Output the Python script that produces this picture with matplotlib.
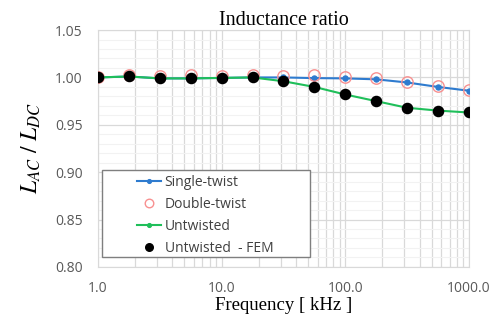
import numpy as np
import matplotlib.pyplot as plt
from matplotlib.patches import Rectangle
from matplotlib.ticker import FixedLocator, MultipleLocator, FuncFormatter

plt.rcParams['mathtext.fontset'] = 'stix'

freq = [1.0, 1.78, 3.16, 5.62, 10.0, 17.8, 31.6, 56.2, 100.0, 178.0, 316.0, 562.0, 1000.0]
single = [1.000, 1.001, 0.999, 0.999, 0.9995, 1.000, 1.000, 0.9993, 0.999, 0.998, 0.9947, 0.990, 0.986]
double = [1.000, 1.003, 1.001, 1.003, 1.001, 1.003, 1.001, 1.003, 1.000, 0.999, 0.995, 0.991, 0.987]
untwisted = [1.000, 1.001, 0.999, 0.999, 0.9995, 1.000, 0.996, 0.990, 0.982, 0.975, 0.968, 0.965, 0.963]
fem = [1.000, 1.001, 0.999, 0.999, 0.9995, 1.000, 0.996, 0.990, 0.982, 0.975, 0.968, 0.965, 0.963]

fig = plt.figure(figsize=(4.95, 3.2), dpi=100)
ax = fig.add_axes([0.198, 0.166, 0.749, 0.740])

ax.plot(freq, single, '-o', color='#2e7bcf', lw=1.5, ms=3.6, label='Single-twist', zorder=3)
ax.plot(freq, double, 'o', mfc='none', mec='#f89090', mew=1.0, ms=8.2, label='Double-twist', zorder=4)
ax.plot(freq, untwisted, '-o', color='#1fbf5a', lw=1.5, ms=3.6, label='Untwisted', zorder=5)
ax.plot(freq, fem, 'o', color='black', ms=7.3, label='Untwisted  - FEM', zorder=6)

ax.set_xscale('log')
ax.set_xlim(1, 1000)
ax.set_ylim(0.80, 1.05)
ax.xaxis.set_major_locator(FixedLocator([1, 10, 100, 1000]))
ax.xaxis.set_major_formatter(FuncFormatter(lambda v, p: f'{v:.1f}'))
ax.yaxis.set_major_locator(MultipleLocator(0.05))
ax.yaxis.set_minor_locator(MultipleLocator(0.01))
ax.yaxis.set_major_formatter(FuncFormatter(lambda v, p: f'{v:.2f}'))

ax.grid(which='major', axis='both', color='#d9d9d9', lw=0.9)
ax.grid(which='minor', axis='x', color='#d9d9d9', lw=0.9)
ax.grid(which='minor', axis='y', color='#f2f2f2', lw=0.8)
ax.set_axisbelow(True)
for s in ax.spines.values():
    s.set_color('#d9d9d9')
ax.tick_params(which='both', length=0, labelsize=10, colors='#595959')
ax.tick_params(axis='x', pad=10)
ax.tick_params(axis='y', pad=11)
for lab in ax.get_xticklabels() + ax.get_yticklabels():
    lab.set_family('Open Sans')

ax.set_title('Inductance ratio', family='Liberation Serif', fontsize=14.5, pad=1)
ax.set_xlabel('Frequency [ kHz ]', family='Liberation Serif', fontsize=13.5, labelpad=1)
ax.set_ylabel(r'$L_{AC}\ /\ L_{DC}$', fontsize=17, labelpad=9)

# legend frame (Excel style box, wider than its contents)
ax.add_patch(Rectangle((0.011, 0.043), 0.56, 0.366, transform=ax.transAxes,
                       facecolor='white', edgecolor='#7f7f7f', lw=1.0, zorder=7))
leg = ax.legend(loc='upper left', bbox_to_anchor=(0.105, 0.388), frameon=False,
                prop={'family': 'Open Sans', 'size': 10}, markerscale=0.75,
                labelspacing=0.5, handlelength=1.7, borderpad=0, handletextpad=0.3,
                borderaxespad=0)
leg.set_zorder(8)
for t in leg.get_texts():
    t.set_color('#404040')

fig.savefig('out.png', dpi=100)
